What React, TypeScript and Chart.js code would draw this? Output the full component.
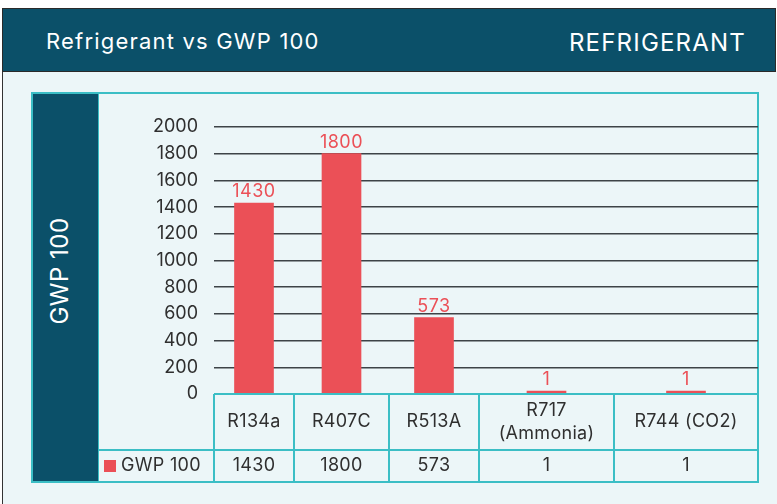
import { useEffect, useRef } from "react";
import { Chart, registerables, CategoryScale } from "chart.js";

Chart.register(...registerables);

// ---------- data ----------
const chartTitle = "Refrigerant vs GWP 100";
const categoryAxisTitle = "REFRIGERANT";
const valueAxisTitle = "GWP 100";
const seriesName = "GWP 100";
const categories: (string | string[])[] = ["R134a", "R407C", "R513A", ["R717", "(Ammonia)"], "R744 (CO2)"];
const gwpValues = [1430, 1800, 573, 1, 1];
const yMin = 0;
const yMax = 2000;
const yStep = 200;

// ---------- layout / style ----------
const columnWidths = [80, 95, 90, 135, 144];
const DARK = "#0b5069";
const TEAL = "#3bbec5";
const BG = "#ecf6f8";
const BAR = "#eb5057";
const TEXT = "#2f2f2f";
const FONT = "Inter";

class WeightedCategoryScale extends CategoryScale {
  static id = "weightedCategory";
  static defaults = CategoryScale.defaults;
  getPixelForValue(value: any) {
    if (typeof value !== "number") value = (this as any).parse(value);
    if (value === null || value === undefined || Number.isNaN(value)) return NaN;
    const total = columnWidths.reduce((a, b) => a + b, 0);
    const i = Math.max(0, Math.min(columnWidths.length - 1, Math.round(value)));
    let start = 0;
    for (let k = 0; k < i; k++) start += columnWidths[k];
    const pos = start + columnWidths[i] * (0.5 + (value - i));
    return (this as any).left + (pos / total) * (this as any).width;
  }
}
Chart.register(WeightedCategoryScale as any);

const valueLabels = {
  id: "valueLabels",
  afterDatasetsDraw(chart: any) {
    const ctx = chart.ctx;
    const meta = chart.getDatasetMeta(0);
    ctx.save();
    ctx.font = `18px ${FONT}`;
    if ("letterSpacing" in ctx) (ctx as any).letterSpacing = "0.5px";
    ctx.fillStyle = BAR;
    ctx.textAlign = "center";
    ctx.textBaseline = "alphabetic";
    meta.data.forEach((bar: any, i: number) => {
      ctx.fillText(String(gwpValues[i]), bar.x, bar.y - 6);
    });
    ctx.restore();
  },
};

const dataTable = {
  id: "dataTable",
  afterDraw(chart: any) {
    const ctx = chart.ctx;
    const xs = chart.scales.x;
    const top = chart.chartArea.bottom;
    const rowDiv = top + 56;
    const bottom = top + 88;
    const legendLeft = 99;
    ctx.save();
    ctx.strokeStyle = TEAL;
    ctx.lineWidth = 2;
    ctx.beginPath();
    ctx.moveTo(xs.left, top);
    ctx.lineTo(xs.right, top);
    ctx.moveTo(legendLeft, rowDiv);
    ctx.lineTo(xs.right, rowDiv);
    ctx.moveTo(legendLeft, bottom);
    ctx.lineTo(xs.right, bottom);
    for (let i = 0; i < categories.length; i++) {
      const x = Math.round(xs.getPixelForValue(i - 0.5));
      ctx.moveTo(x, top);
      ctx.lineTo(x, bottom);
    }
    ctx.stroke();

    ctx.fillStyle = TEXT;
    ctx.font = `18px ${FONT}`;
    if ("letterSpacing" in ctx) (ctx as any).letterSpacing = "0.3px";
    ctx.textAlign = "center";
    ctx.textBaseline = "middle";
    const headMid = (top + rowDiv) / 2;
    const valMid = (rowDiv + bottom) / 2;
    categories.forEach((c, i) => {
      const cx = (xs.getPixelForValue(i - 0.5) + xs.getPixelForValue(i + 0.5)) / 2;
      const lines = Array.isArray(c) ? c : [c];
      const lh = 23;
      lines.forEach((ln, j) => {
        ctx.fillText(ln, cx, headMid + (j - (lines.length - 1) / 2) * lh);
      });
      ctx.fillText(String(gwpValues[i]), cx, valMid);
    });
    ctx.fillStyle = BAR;
    ctx.fillRect(104, valMid - 6, 12, 12);
    ctx.fillStyle = TEXT;
    ctx.textAlign = "left";
    ctx.fillText(seriesName, 121, valMid);
    ctx.restore();
  },
};

export default function App() {
  const ref = useRef<HTMLCanvasElement>(null);
  useEffect(() => {
    Chart.defaults.font.family = FONT;
    const chart = new Chart(ref.current as HTMLCanvasElement, {
      type: "bar",
      data: {
        labels: categories as any,
        datasets: [
          {
            label: seriesName,
            data: gwpValues,
            backgroundColor: BAR,
            barThickness: 39,
            minBarLength: 3,
          },
        ],
      },
      options: {
        responsive: false,
        animation: false,
        devicePixelRatio: 1,
        layout: { padding: { left: 99, top: 127, right: 19, bottom: 110 } },
        plugins: {
          legend: { display: false },
          tooltip: { enabled: false },
          title: { display: false },
        },
        scales: {
          x: { type: "weightedCategory" as any, display: false, offset: true },
          y: {
            min: yMin,
            max: yMax,
            ticks: {
              stepSize: yStep,
              padding: 16,
              color: TEXT,
              font: { size: 18 },
              callback: (v: any) => String(v),
            },
            grid: {
              drawTicks: false,
              lineWidth: 1.5,
              color: (c: any) => (c.tick && c.tick.value === 0 ? "rgba(0,0,0,0)" : "#3d4347"),
            },
            border: { display: false },
            afterFit: (s: any) => {
              s.width = 115;
            },
          },
        },
      },
      plugins: [valueLabels, dataTable],
    } as any);
    return () => chart.destroy();
  }, []);

  return (
    <div
      style={{
        position: "absolute",
        left: 0,
        top: 0,
        width: 777,
        height: 504,
        overflow: "hidden",
        fontFamily: FONT,
        background: "#fff",
      }}
    >
      <div
        style={{
          position: "absolute",
          left: 2,
          top: 71,
          width: 800,
          height: 460,
          background: BG,
          borderLeft: "1.5px solid #333",
        }}
      />
      <div
        style={{
          position: "absolute",
          left: 2,
          top: 8,
          width: 774,
          height: 64,
          boxSizing: "border-box",
          background: DARK,
          border: "1.5px solid #2a2a2a",
        }}
      />
      <div
        style={{
          position: "absolute",
          left: 46,
          top: 30,
          fontSize: 22,
          lineHeight: "22px",
          letterSpacing: "1.2px",
          color: "#fff",
          whiteSpace: "nowrap",
        }}
      >
        {chartTitle}
      </div>
      <div
        style={{
          position: "absolute",
          right: 777 - 746,
          top: 31,
          fontSize: 24,
          lineHeight: "24px",
          letterSpacing: "1.2px",
          color: "#fff",
          whiteSpace: "nowrap",
        }}
      >
        {categoryAxisTitle}
      </div>
      <div
        style={{
          position: "absolute",
          left: 31,
          top: 92,
          width: 728,
          height: 391,
          boxSizing: "border-box",
          border: `2px solid ${TEAL}`,
        }}
      />
      <div
        style={{
          position: "absolute",
          left: 33,
          top: 94,
          width: 66,
          height: 387,
          background: DARK,
          borderRight: `1px solid ${TEAL}`,
          boxSizing: "border-box",
        }}
      />
      <div
        style={{
          position: "absolute",
          left: 60,
          top: 271,
          transform: "translate(-50%, -50%) rotate(-90deg)",
          fontSize: 24,
          lineHeight: "24px",
          letterSpacing: "0.5px",
          color: "#fff",
          whiteSpace: "nowrap",
        }}
      >
        {valueAxisTitle}
      </div>
      <canvas
        ref={ref}
        width={777}
        height={504}
        style={{ position: "absolute", left: 0, top: 0, width: 777, height: 504 }}
      />
    </div>
  );
}
